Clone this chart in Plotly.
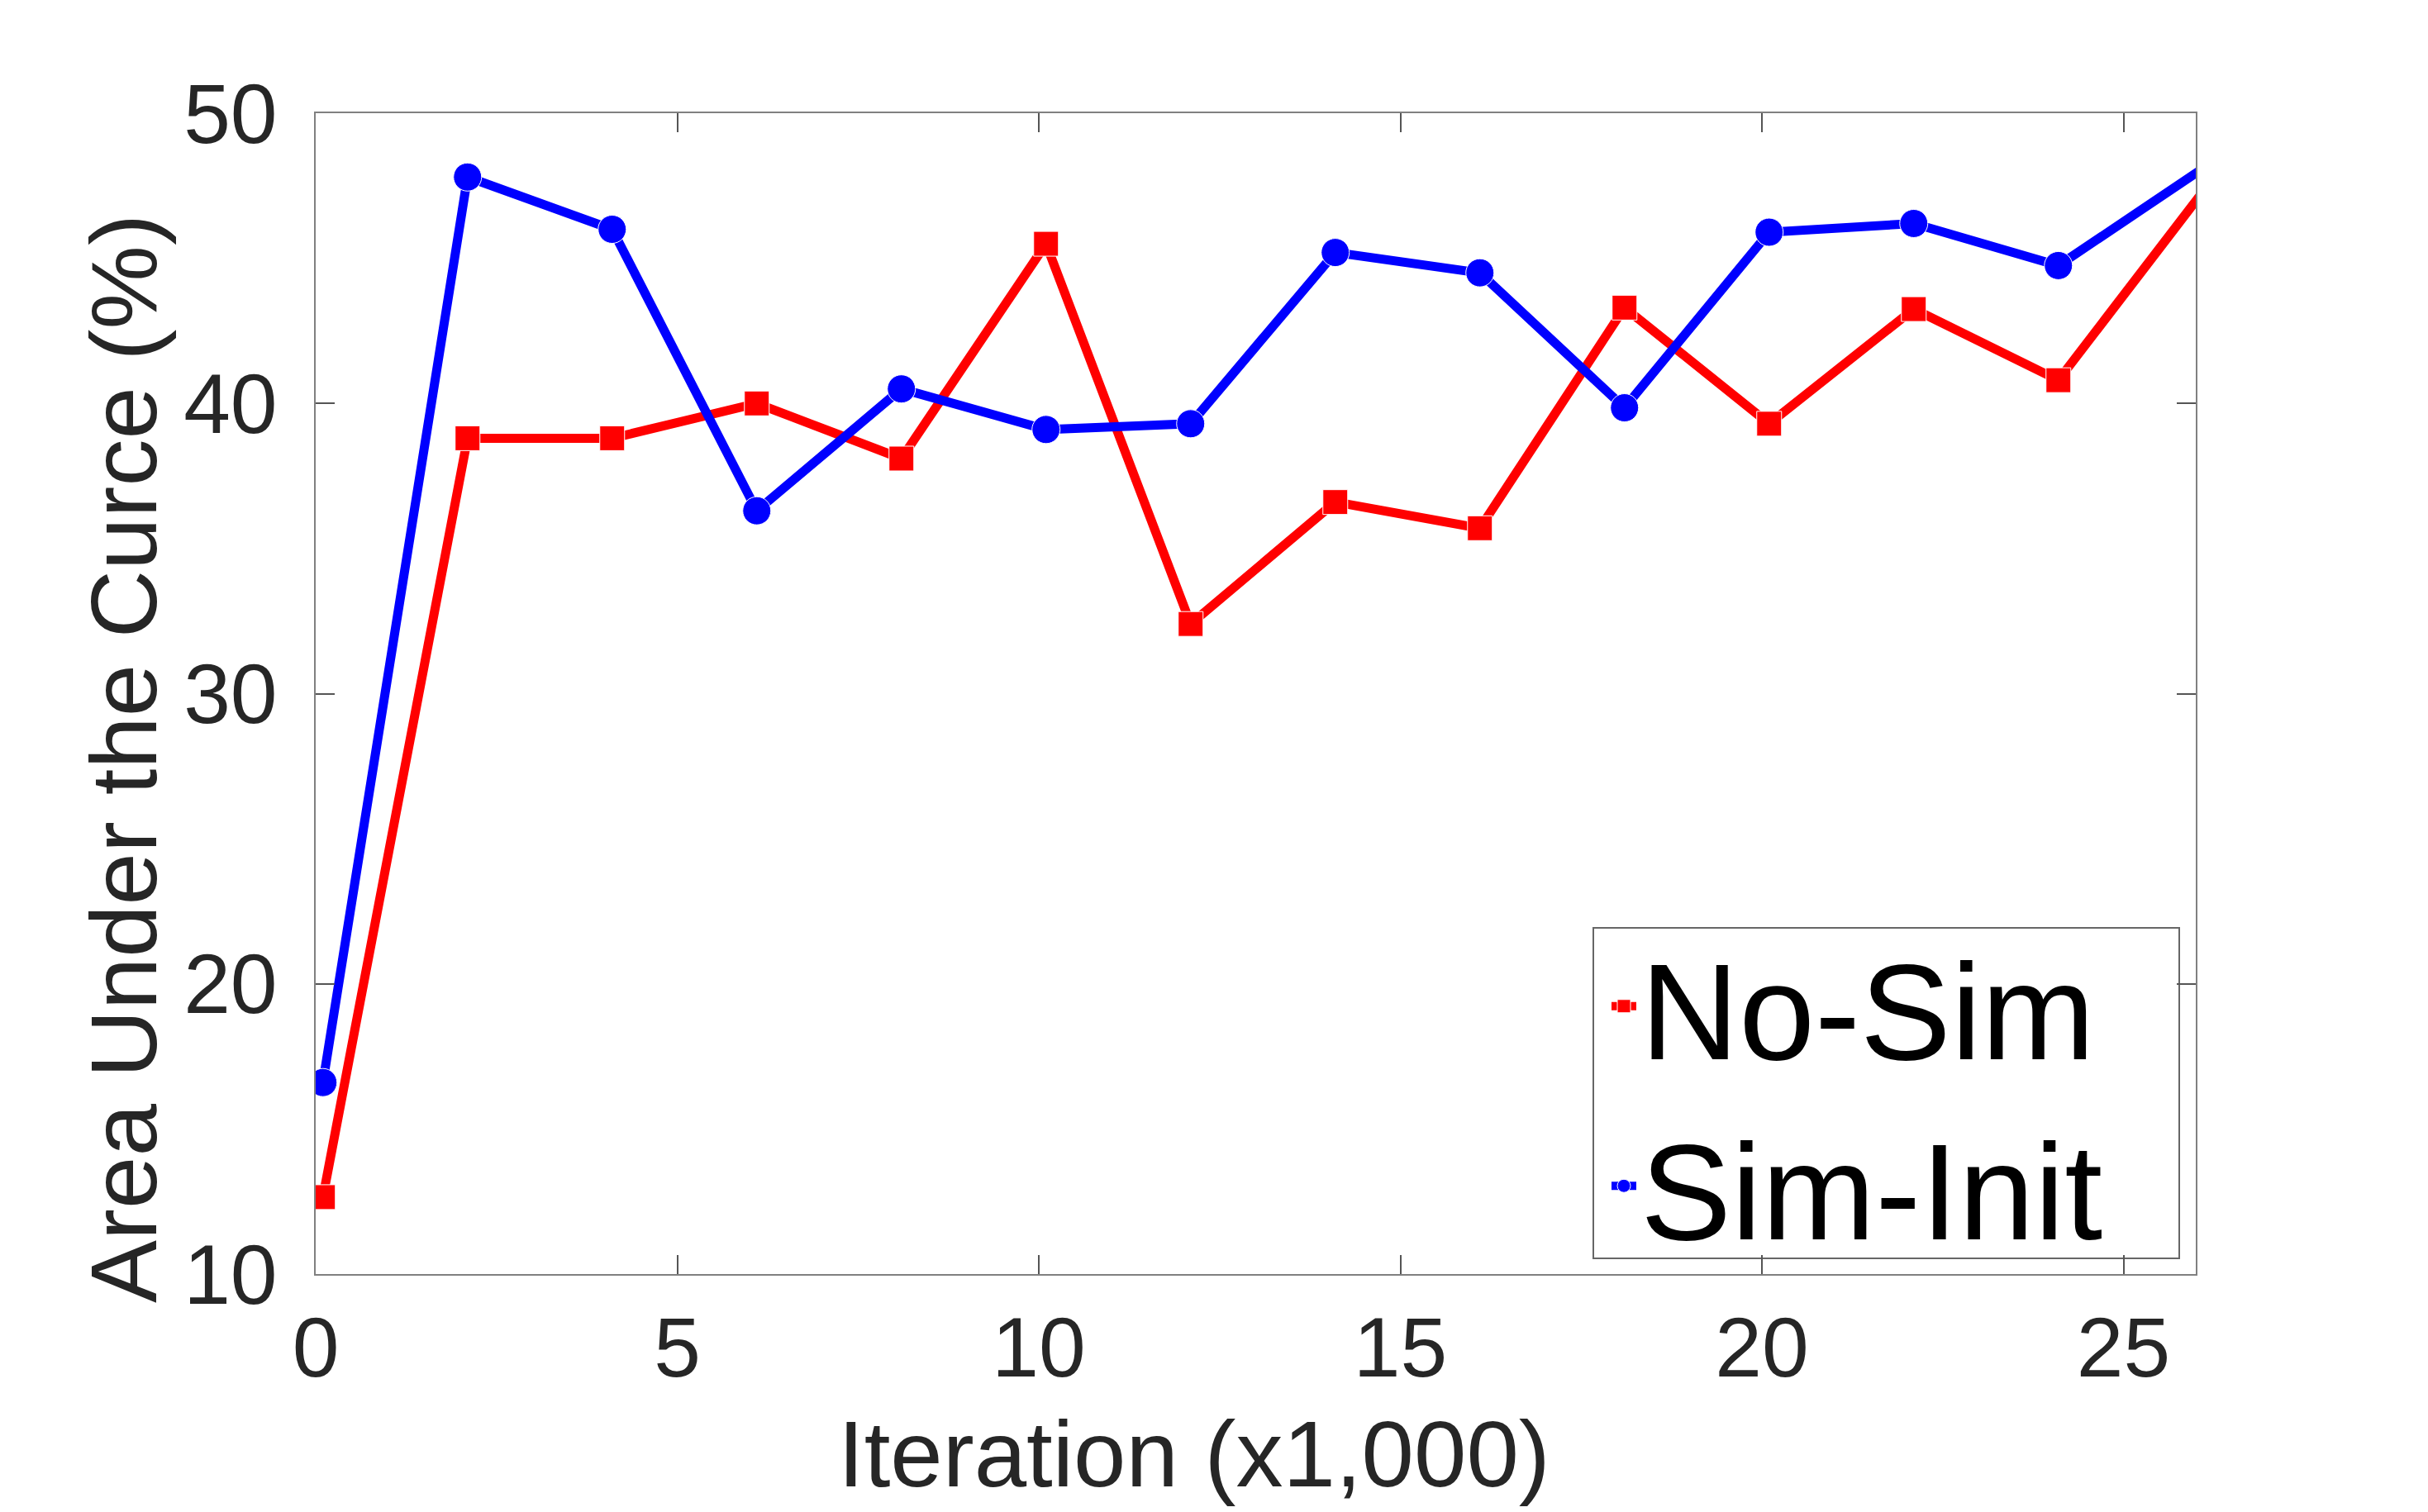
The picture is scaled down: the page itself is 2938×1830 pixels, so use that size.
import plotly.graph_objects as go

iterations = [0.1, 2.1, 4.1, 6.1, 8.1, 10.1, 12.1, 14.1, 16.1, 18.1, 20.1, 22.1, 24.1, 26.1]
no_sim = [12.65, 38.8, 38.8, 40.0, 38.1, 45.5, 32.4, 36.6, 35.7, 43.3, 39.3, 43.25, 40.8, 47.3]
sim_init = [16.6, 47.8, 46.0, 36.3, 40.5, 39.1, 39.3, 45.2, 44.5, 39.85, 45.9, 46.2, 44.75, 48.1]
x_ticks = [0, 5, 10, 15, 20, 25]
y_ticks = [10, 20, 30, 40, 50]
x_range = [0, 26]

W, H = 2938, 1830
L, R, T, B = 382, 2657, 137, 1542
FONT = "Liberation Sans, Arial, Helvetica, sans-serif"
TXT = "#262626"

def px_to_paper_x(px):
    return (px - L) / (R - L)

def px_to_paper_y(py):
    return (B - py) / (B - T)

# markers whose point lies outside the visible x range are not drawn (as in the reference)
def marker_sizes(size):
    return [size if x_range[0] <= x <= x_range[1] else 0 for x in iterations]

fig = go.Figure()
fig.add_trace(go.Scatter(
    x=iterations, y=no_sim, name="No-Sim", mode="lines+markers",
    line=dict(color="#FF0000", width=11),
    marker=dict(symbol="square", size=marker_sizes(30), color="#FF0000", opacity=1),
))
fig.add_trace(go.Scatter(
    x=iterations, y=sim_init, name="Sim-Init", mode="lines+markers",
    line=dict(color="#0000FF", width=11),
    marker=dict(symbol="circle", size=marker_sizes(34), color="#0000FF", opacity=1),
))

axis_common = dict(
    showline=True, linecolor="#808080", linewidth=2, mirror="ticks",
    ticks="inside", ticklen=23, tickwidth=2, tickcolor="#555555",
    showgrid=False, zeroline=False,
    tickfont=dict(family=FONT, size=102, color=TXT),
)

fig.update_layout(
    width=W, height=H,
    margin=dict(l=L, r=W - R, t=T, b=H - B),
    paper_bgcolor="white", plot_bgcolor="white",
    xaxis=dict(range=x_range, tickvals=x_ticks, ticklabelstandoff=0, **axis_common),
    yaxis=dict(range=[10, 50], tickvals=y_ticks, ticklabelstandoff=24, **axis_common),
    showlegend=True,
    legend=dict(
        x=px_to_paper_x(1945), y=px_to_paper_y(1104), xanchor="left", yanchor="top",
        bgcolor="rgba(0,0,0,0)", borderwidth=0,
        font=dict(family=FONT, size=165, color="black"),
        itemsizing="trace", tracegroupgap=0,
    ),
    shapes=[dict(
        type="rect", xref="paper", yref="paper",
        x0=px_to_paper_x(1928), x1=px_to_paper_x(2637),
        y0=px_to_paper_y(1523), y1=px_to_paper_y(1123),
        line=dict(color="#666666", width=2), fillcolor="white", layer="below",
    )],
    annotations=[
        dict(text="Iteration (x1,000)", xref="paper", yref="paper",
             x=px_to_paper_x(1445), y=px_to_paper_y(1759),
             xanchor="center", yanchor="middle", showarrow=False,
             font=dict(family=FONT, size=114, color=TXT)),
        dict(text="Area Under the Curce (%)", xref="paper", yref="paper",
             x=px_to_paper_x(150), y=px_to_paper_y(918), textangle=-90,
             xanchor="center", yanchor="middle", showarrow=False,
             font=dict(family=FONT, size=114, color=TXT)),
    ],
)

fig.write_html("out.html")
